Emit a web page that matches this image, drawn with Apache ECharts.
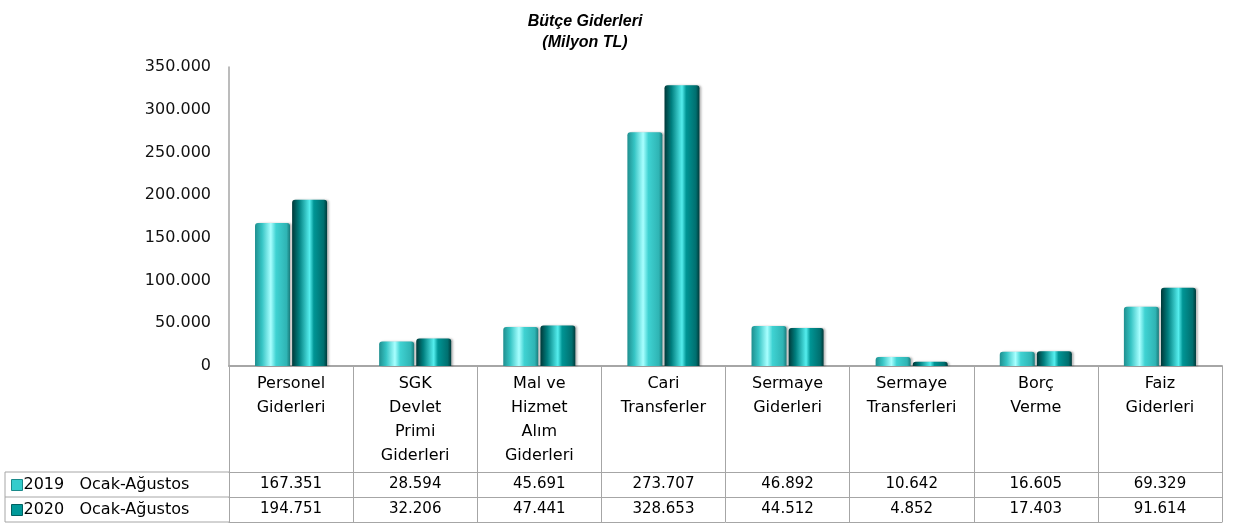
<!DOCTYPE html>
<html>
<head>
<meta charset="utf-8">
<script src="https://cdn.jsdelivr.net/npm/echarts@6/dist/echarts.min.js"></script>
<style>
  html, body { margin: 0; padding: 0; background: #fff; }
  #chart { width: 1235px; height: 532px; }
</style>
</head>
<body>
<div id="chart"></div>
<script>
// veriler
var categories = ['Personel\nGiderleri', 'SGK\nDevlet\nPrimi\nGiderleri', 'Mal ve\nHizmet\nAlım\nGiderleri',
    'Cari\nTransferler', 'Sermaye\nGiderleri', 'Sermaye\nTransferleri', 'Borç\nVerme', 'Faiz\nGiderleri'];
var seriesNames = ['2019   Ocak-Ağustos', '2020   Ocak-Ağustos'];
var values2019 = [167351, 28594, 45691, 273707, 46892, 10642, 16605, 69329];
var values2020 = [194751, 32206, 47441, 328653, 44512, 4852, 17403, 91614];
var yMax = 350000;
var yStep = 50000;

function fmt(v) {
    return String(v).replace(/\B(?=(\d{3})+(?!\d))/g, '.');
}

var font = 'DejaVu Sans';
var lineGray = '#a6a6a6';

// tablo olcüleri
var gridLeft = 229, gridRight = 13, gridTop = 67, gridBottom = 166;
var axisY = 532 - gridBottom;
var rowCat = 106, rowH = 25;
var tableLeft = 5;

var grad2019 = new echarts.graphic.LinearGradient(0, 0, 1, 0, [
    { offset: 0, color: '#1f8f8f' },
    { offset: 0.2, color: '#36c4c4' },
    { offset: 0.45, color: '#a8ffff' },
    { offset: 0.6, color: '#3fd2d2' },
    { offset: 0.9, color: '#2fb4b4' },
    { offset: 1, color: '#1a7c7c' }
]);
var grad2020 = new echarts.graphic.LinearGradient(0, 0, 1, 0, [
    { offset: 0, color: '#003838' },
    { offset: 0.2, color: '#007f7f' },
    { offset: 0.5, color: '#55eeee' },
    { offset: 0.62, color: '#009595' },
    { offset: 0.9, color: '#006f6f' },
    { offset: 1, color: '#003a3a' }
]);

var chart = echarts.init(document.getElementById('chart'));

var option = {
    animation: false,
    textStyle: { fontFamily: font },
    title: {
        text: 'Bütçe Giderleri\n(Milyon TL)',
        left: 580,
        top: 6,
        textAlign: 'center',
        textStyle: { fontSize: 16, fontWeight: 'bold', fontStyle: 'italic', color: '#000', lineHeight: 21, fontFamily: 'Liberation Sans' }
    },
    legend: {
        orient: 'vertical',
        left: 11,
        top: axisY + rowCat + 5,
        padding: 0,
        itemGap: 9,
        itemWidth: 11,
        itemHeight: 11,
        icon: 'rect',
        textStyle: { fontSize: 16, lineHeight: 16, color: '#000', padding: [0, 0, 0, -4] },
        data: [
            { name: seriesNames[0], itemStyle: { color: '#33cccc', borderColor: '#1a8a8a', borderWidth: 1 } },
            { name: seriesNames[1], itemStyle: { color: '#009999', borderColor: '#006060', borderWidth: 1 } }
        ]
    },
    grid: { left: gridLeft, right: gridRight, top: gridTop, bottom: gridBottom, containLabel: false },
    xAxis: [
        {
            type: 'category',
            data: categories,
            axisLine: { lineStyle: { color: lineGray, width: 2 } },
            axisTick: { show: true, alignWithLabel: false, interval: 0, length: rowCat + rowH * 2, lineStyle: { color: lineGray } },
            axisLabel: { interval: 0, margin: 6, fontSize: 16, lineHeight: 24, color: '#000' }
        },
        {
            type: 'category',
            data: values2019.map(fmt),
            position: 'bottom',
            offset: rowCat,
            axisLine: { lineStyle: { color: lineGray } },
            axisTick: { show: false },
            axisLabel: { interval: 0, margin: 0, fontSize: 15, lineHeight: rowH, color: '#000' }
        },
        {
            type: 'category',
            data: values2020.map(fmt),
            position: 'bottom',
            offset: rowCat + rowH,
            axisLine: { lineStyle: { color: lineGray } },
            axisTick: { show: false },
            axisLabel: { interval: 0, margin: 0, fontSize: 15, lineHeight: rowH, color: '#000' }
        },
        {
            type: 'category',
            data: categories,
            position: 'bottom',
            offset: rowCat + rowH * 2,
            axisLine: { lineStyle: { color: lineGray } },
            axisTick: { show: false },
            axisLabel: { show: false }
        }
    ],
    yAxis: {
        type: 'value',
        min: 0,
        max: yMax,
        interval: yStep,
        axisLine: { show: true, lineStyle: { color: lineGray, width: 1.5 } },
        axisTick: { show: false },
        splitLine: { show: false },
        axisLabel: { fontSize: 16, color: '#111', margin: 18, formatter: fmt }
    },
    graphic: [
        { type: 'line', shape: { x1: tableLeft, y1: axisY + rowCat, x2: gridLeft, y2: axisY + rowCat }, style: { stroke: lineGray, lineWidth: 1 } },
        { type: 'line', shape: { x1: tableLeft, y1: axisY + rowCat + rowH, x2: gridLeft, y2: axisY + rowCat + rowH }, style: { stroke: lineGray, lineWidth: 1 } },
        { type: 'line', shape: { x1: tableLeft, y1: axisY + rowCat + rowH * 2, x2: gridLeft, y2: axisY + rowCat + rowH * 2 }, style: { stroke: lineGray, lineWidth: 1 } },
        { type: 'line', shape: { x1: tableLeft, y1: axisY + rowCat, x2: tableLeft, y2: axisY + rowCat + rowH * 2 }, style: { stroke: lineGray, lineWidth: 1 } }
    ],
    series: [
        {
            name: seriesNames[0],
            type: 'bar',
            data: values2019,
            barWidth: 35,
            barGap: '6%',
            itemStyle: { color: grad2019, borderRadius: [3, 3, 0, 0], shadowColor: 'rgba(0,0,0,0.25)', shadowOffsetX: 2, shadowBlur: 2 }
        },
        {
            name: seriesNames[1],
            type: 'bar',
            data: values2020,
            barWidth: 35,
            itemStyle: { color: grad2020, borderRadius: [3, 3, 0, 0], shadowColor: 'rgba(0,0,0,0.25)', shadowOffsetX: 2, shadowBlur: 2 }
        }
    ]
};

chart.setOption(option);
</script>
</body>
</html>
